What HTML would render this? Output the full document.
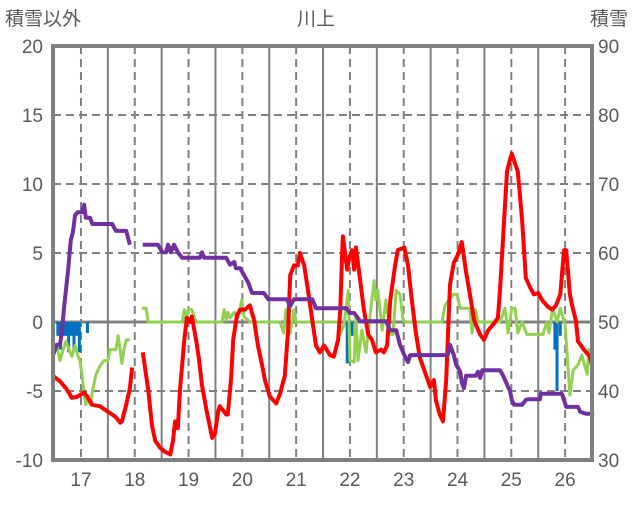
<!DOCTYPE html>
<html><head><meta charset="utf-8"><style>
body{margin:0;background:#fff;width:636px;height:501px;overflow:hidden;font-family:"Liberation Sans","Noto Sans CJK JP",sans-serif}
svg text{fill:#595959;font-family:"Liberation Sans","Noto Sans CJK JP",sans-serif}
</style></head><body>
<svg id="chart" width="636" height="501" xmlns="http://www.w3.org/2000/svg">
<text x="5" y="25" font-size="19">積雪以外</text>
<text x="297" y="25" font-size="19">川上</text>
<text x="590" y="25" font-size="19">積雪</text>
<g id="grid"></g><g id="marks"></g><g id="axes"></g>
</svg>
<script>
const leftTicks=[20,15,10,5,0,-5,-10];
const rightTicks=[90,80,70,60,50,40,30];
const dayTicks=[17,18,19,20,21,22,23,24,25,26];
const redDays=[16.48,16.61,16.72,16.80,16.83,16.94,17.06,17.13,17.21,17.35,17.50,17.58,17.65,17.73,17.76,17.84,17.91,17.95,18.05,18.15,18.25,18.32,18.38,18.47,18.56,18.66,18.71,18.75,18.80,18.84,18.92,18.97,19.03,19.06,19.14,19.19,19.25,19.34,19.44,19.49,19.55,19.58,19.70,19.73,19.79,19.83,19.90,19.96,20.05,20.14,20.22,20.29,20.37,20.42,20.51,20.63,20.70,20.79,20.85,20.89,20.96,21.03,21.07,21.15,21.22,21.30,21.37,21.44,21.52,21.63,21.70,21.78,21.82,21.85,21.87,21.95,21.98,22.04,22.08,22.11,22.19,22.26,22.34,22.41,22.48,22.58,22.63,22.69,22.75,22.84,22.89,23.01,23.08,23.15,23.23,23.30,23.41,23.49,23.56,23.60,23.67,23.73,23.79,23.86,23.93,24.01,24.08,24.16,24.23,24.31,24.42,24.49,24.57,24.68,24.75,24.79,24.86,24.92,24.97,25.01,25.05,25.12,25.20,25.27,25.35,25.42,25.50,25.57,25.68,25.76,25.83,25.91,25.98,26.02,26.09,26.13,26.20,26.24,26.35,26.46,26.50];
const redValues=[-3.9,-4.3,-4.8,-5.3,-5.5,-5.4,-5.1,-5.5,-6.0,-6.1,-6.5,-6.7,-6.9,-7.3,-7.2,-6.0,-4.8,-3.3,null,-2.2,-4.9,-7.5,-8.6,-9.1,-9.4,-9.6,-8.6,-7.2,-7.7,-4.9,-1.3,0.3,0,0.4,-1.3,-2.6,-4.6,-6.5,-8.4,-8.1,-6.5,-6.1,-6.7,-6.7,-4.1,-1.3,0.5,0.9,0.9,1.2,0.1,-1.7,-3.2,-4.2,-5.4,-5.9,-5.2,-3.9,-0.6,3.4,4.1,4.1,5.0,4.1,2.3,0.1,-1.7,-2.2,-1.7,-2.4,-2.5,-1.3,0.9,4.5,6.2,3.8,4.6,5.2,3.8,5.4,3.0,0.9,-0.9,-1.3,-2.2,-2.0,-2.2,-1.7,1.6,4.1,5.2,5.4,4.1,1.6,-0.9,-2.6,-3.8,-4.7,-4.2,-5.7,-6.7,-7.2,-4.2,2.7,4.3,4.9,5.8,3.6,2.0,0.1,-0.9,-1.3,-0.6,-0.1,0.3,2.3,7.0,10.9,11.7,12.2,11.7,10.9,7.4,3.2,2.5,2.0,2.1,1.6,1.1,0.9,1.2,2.0,5.2,5.2,2.0,1.2,0.1,-1.4,-2.0,-2.5,-3.1];
const greenDays=[16.48,16.55,16.61,16.67,16.72,16.78,16.83,16.89,16.94,16.98,17.02,17.06,17.09,17.13,17.17,17.22,17.28,17.35,17.43,17.50,17.54,17.65,17.69,17.73,17.76,17.80,17.84,17.91,18.0,18.13,18.21,18.25,18.88,18.92,18.95,18.99,19.06,19.14,19.62,19.66,19.70,19.73,19.77,19.85,19.92,19.99,20.03,20.14,20.70,20.77,20.81,20.89,20.96,21.00,21.78,21.82,21.89,21.97,22.00,22.08,22.11,22.15,22.22,22.30,22.37,22.45,22.48,22.52,22.60,22.67,22.75,22.80,22.86,22.93,22.99,23.04,23.12,23.71,23.77,23.92,23.99,24.05,24.23,24.27,24.33,24.38,24.79,24.88,24.94,25.01,25.07,25.12,25.20,25.29,25.59,25.66,25.70,25.77,25.85,25.91,26.00,26.09,26.15,26.24,26.31,26.41,26.44];
const greenValues=[-2.5,-1.7,-2.8,-2.0,-1.4,-2.0,-2.5,-1.7,-2.4,-2.8,-3.8,-5.3,-6.0,-5.4,-6.0,-4.9,-3.8,-3.2,-2.8,-2.8,-2.0,-2.0,-1.0,-2.0,-3.0,-2.0,-1.3,-1.3,null,1.0,1.0,0,0,0.9,-0.2,0.9,0.9,0,0,0.9,0.1,0.7,0.3,0.7,0.3,1.6,0.4,0,0,-0.8,0.9,-0.8,0.9,0,0,-0.9,-0.2,2.3,-2.8,-2.9,0.5,-2.8,-0.6,-2.2,0.3,3.0,1.6,2.3,-0.6,1.6,-0.9,-0.9,2.3,2.0,0.1,0,0,0,1.2,2.0,2.0,1.0,1.0,-0.8,0.9,0,0,1.0,-0.8,1.0,1.0,-0.8,0,-0.9,-0.9,0,-0.8,1.0,0,1.0,-0.2,-5.3,-3.5,-3.1,-2.4,-3.8,-1.9];
const blueDays=[16.57,16.62,16.67,16.72,16.77,16.82,16.87,16.92,16.97,17.12,21.95,22.04,25.81,25.85,25.91];
const blueValues=[-1.0,-2.0,-1.0,-1.0,-2.2,-1.0,-2.0,-1.0,-2.2,-0.8,-3.0,-1.0,-2.0,-5.0,-1.0];
const purpleDays=[16.48,16.55,16.61,16.65,16.68,16.72,16.76,16.81,16.85,16.89,16.94,17.02,17.06,17.09,17.17,17.21,17.58,17.65,17.84,17.91,18.0,18.15,18.43,18.51,18.58,18.62,18.67,18.73,18.80,18.88,19.21,19.25,19.29,19.70,19.77,19.85,19.88,19.96,20.03,20.11,20.18,20.40,20.48,20.83,20.89,20.96,21.30,21.37,21.93,22.00,22.08,22.19,22.67,22.75,22.86,22.93,23.01,23.08,23.12,23.82,23.86,23.93,23.97,24.05,24.08,24.12,24.16,24.34,24.38,24.42,24.46,24.79,24.85,24.90,24.98,25.01,25.05,25.20,25.27,25.31,25.53,25.55,25.94,25.98,26.02,26.24,26.28,26.39,26.54];
const purpleValues=[45.2,46.7,46.7,48.8,51.7,54.6,57.5,61.9,63.0,65.5,65.9,65.9,67.0,65.1,65.1,64.2,64.2,63.2,63.2,61.2,null,61.2,61.2,60.1,60.1,61.2,60.1,61.2,60.1,59.3,59.3,60.1,59.3,59.3,58.3,58.7,57.8,57.8,56.8,55.7,54.2,54.2,53.3,53.3,52.3,53.3,53.3,52.0,52.0,51.3,51.3,50.1,50.1,48.8,48.8,46.7,45.2,44.2,45.2,45.2,46.7,45.2,43.9,42.8,41.2,40.4,42.2,42.2,42.8,41.9,43.0,43.0,42.2,41.3,39.9,38.7,38.0,38.0,38.7,38.8,38.8,39.6,39.6,38.7,37.7,37.7,37.0,36.7,36.7];

const X0=53,X1=592,Y0=46,Y1=460,D0=16.48,D1=26.5;
const xs=d=>X0+(d-D0)/(D1-D0)*(X1-X0);
const yl=v=>Y1-(v+10)/30*(Y1-Y0);
const yr=v=>Y1-(v-30)/60*(Y1-Y0);
const NS='http://www.w3.org/2000/svg';
function mk(tag,parent,attrs){const e=document.createElementNS(NS,tag);for(const k in attrs)e.setAttribute(k,attrs[k]);parent.appendChild(e);return e;}
const grid=document.getElementById('grid'),marks=document.getElementById('marks'),axes=document.getElementById('axes');
leftTicks.forEach((v,i)=>{
  const y=yl(v);
  if(v!==20&&v!==-10){const l=mk('line',grid,{x1:X0,x2:X1,y1:y,y2:y,stroke:'#808080','stroke-width':v===0?3:2,'stroke-dasharray':v===0?'none':'8,5'});
  
  }
  const t=mk('text',axes,{x:43,y:y+7,'font-size':19,'text-anchor':'end'});t.textContent=v;
  
  
  const r=mk('text',axes,{x:598,y:yr(rightTicks[i])+7,'font-size':19});r.textContent=rightTicks[i];
  
  
});
dayTicks.forEach(d=>{
  const x=xs(d);
  const l=mk('line',grid,{x1:x,x2:x,y1:Y0,y2:Y1,stroke:'#808080','stroke-width':2,'stroke-dasharray':'8,5'});
  
  
  if(d>16.5){const xm=xs(d-0.5);const s=mk('line',grid,{x1:xm,x2:xm,y1:Y0,y2:Y1,stroke:'#808080','stroke-width':2});
  
  }
  const t=mk('text',axes,{x:x,y:486,'font-size':19,'text-anchor':'middle'});t.textContent=d;
  
  
});
const xe=xs(26.5);
function path(days,vals,yf){let s='',pen=false;days.forEach((d,i)=>{const v=vals[i];if(v===null){pen=false;return;}s+=(pen?'L':'M')+xs(d).toFixed(1)+' '+yf(v).toFixed(1);pen=true;});return s;}
blueDays.forEach((d,i)=>{const x=xs(d);const b=mk('rect',marks,{x:x-1.5,width:3,y:yl(0),height:yl(blueValues[i])-yl(0),fill:'#0070c0'});
  
  });
const g=mk('path',marks,{d:path(greenDays,greenValues,yl),fill:'none',stroke:'#92d050','stroke-width':3,'stroke-linejoin':'round'});


const r=mk('path',marks,{d:path(redDays,redValues,yl),fill:'none',stroke:'#ff0000','stroke-width':4,'stroke-linejoin':'round'});


const p=mk('path',marks,{d:path(purpleDays,purpleValues,yr),fill:'none',stroke:'#7030a0','stroke-width':4,'stroke-linejoin':'round'});


const f=mk('rect',axes,{x:X0,y:Y0,width:X1-X0,height:Y1-Y0,fill:'none',stroke:'#808080','stroke-width':4});


</script>
</body></html>
